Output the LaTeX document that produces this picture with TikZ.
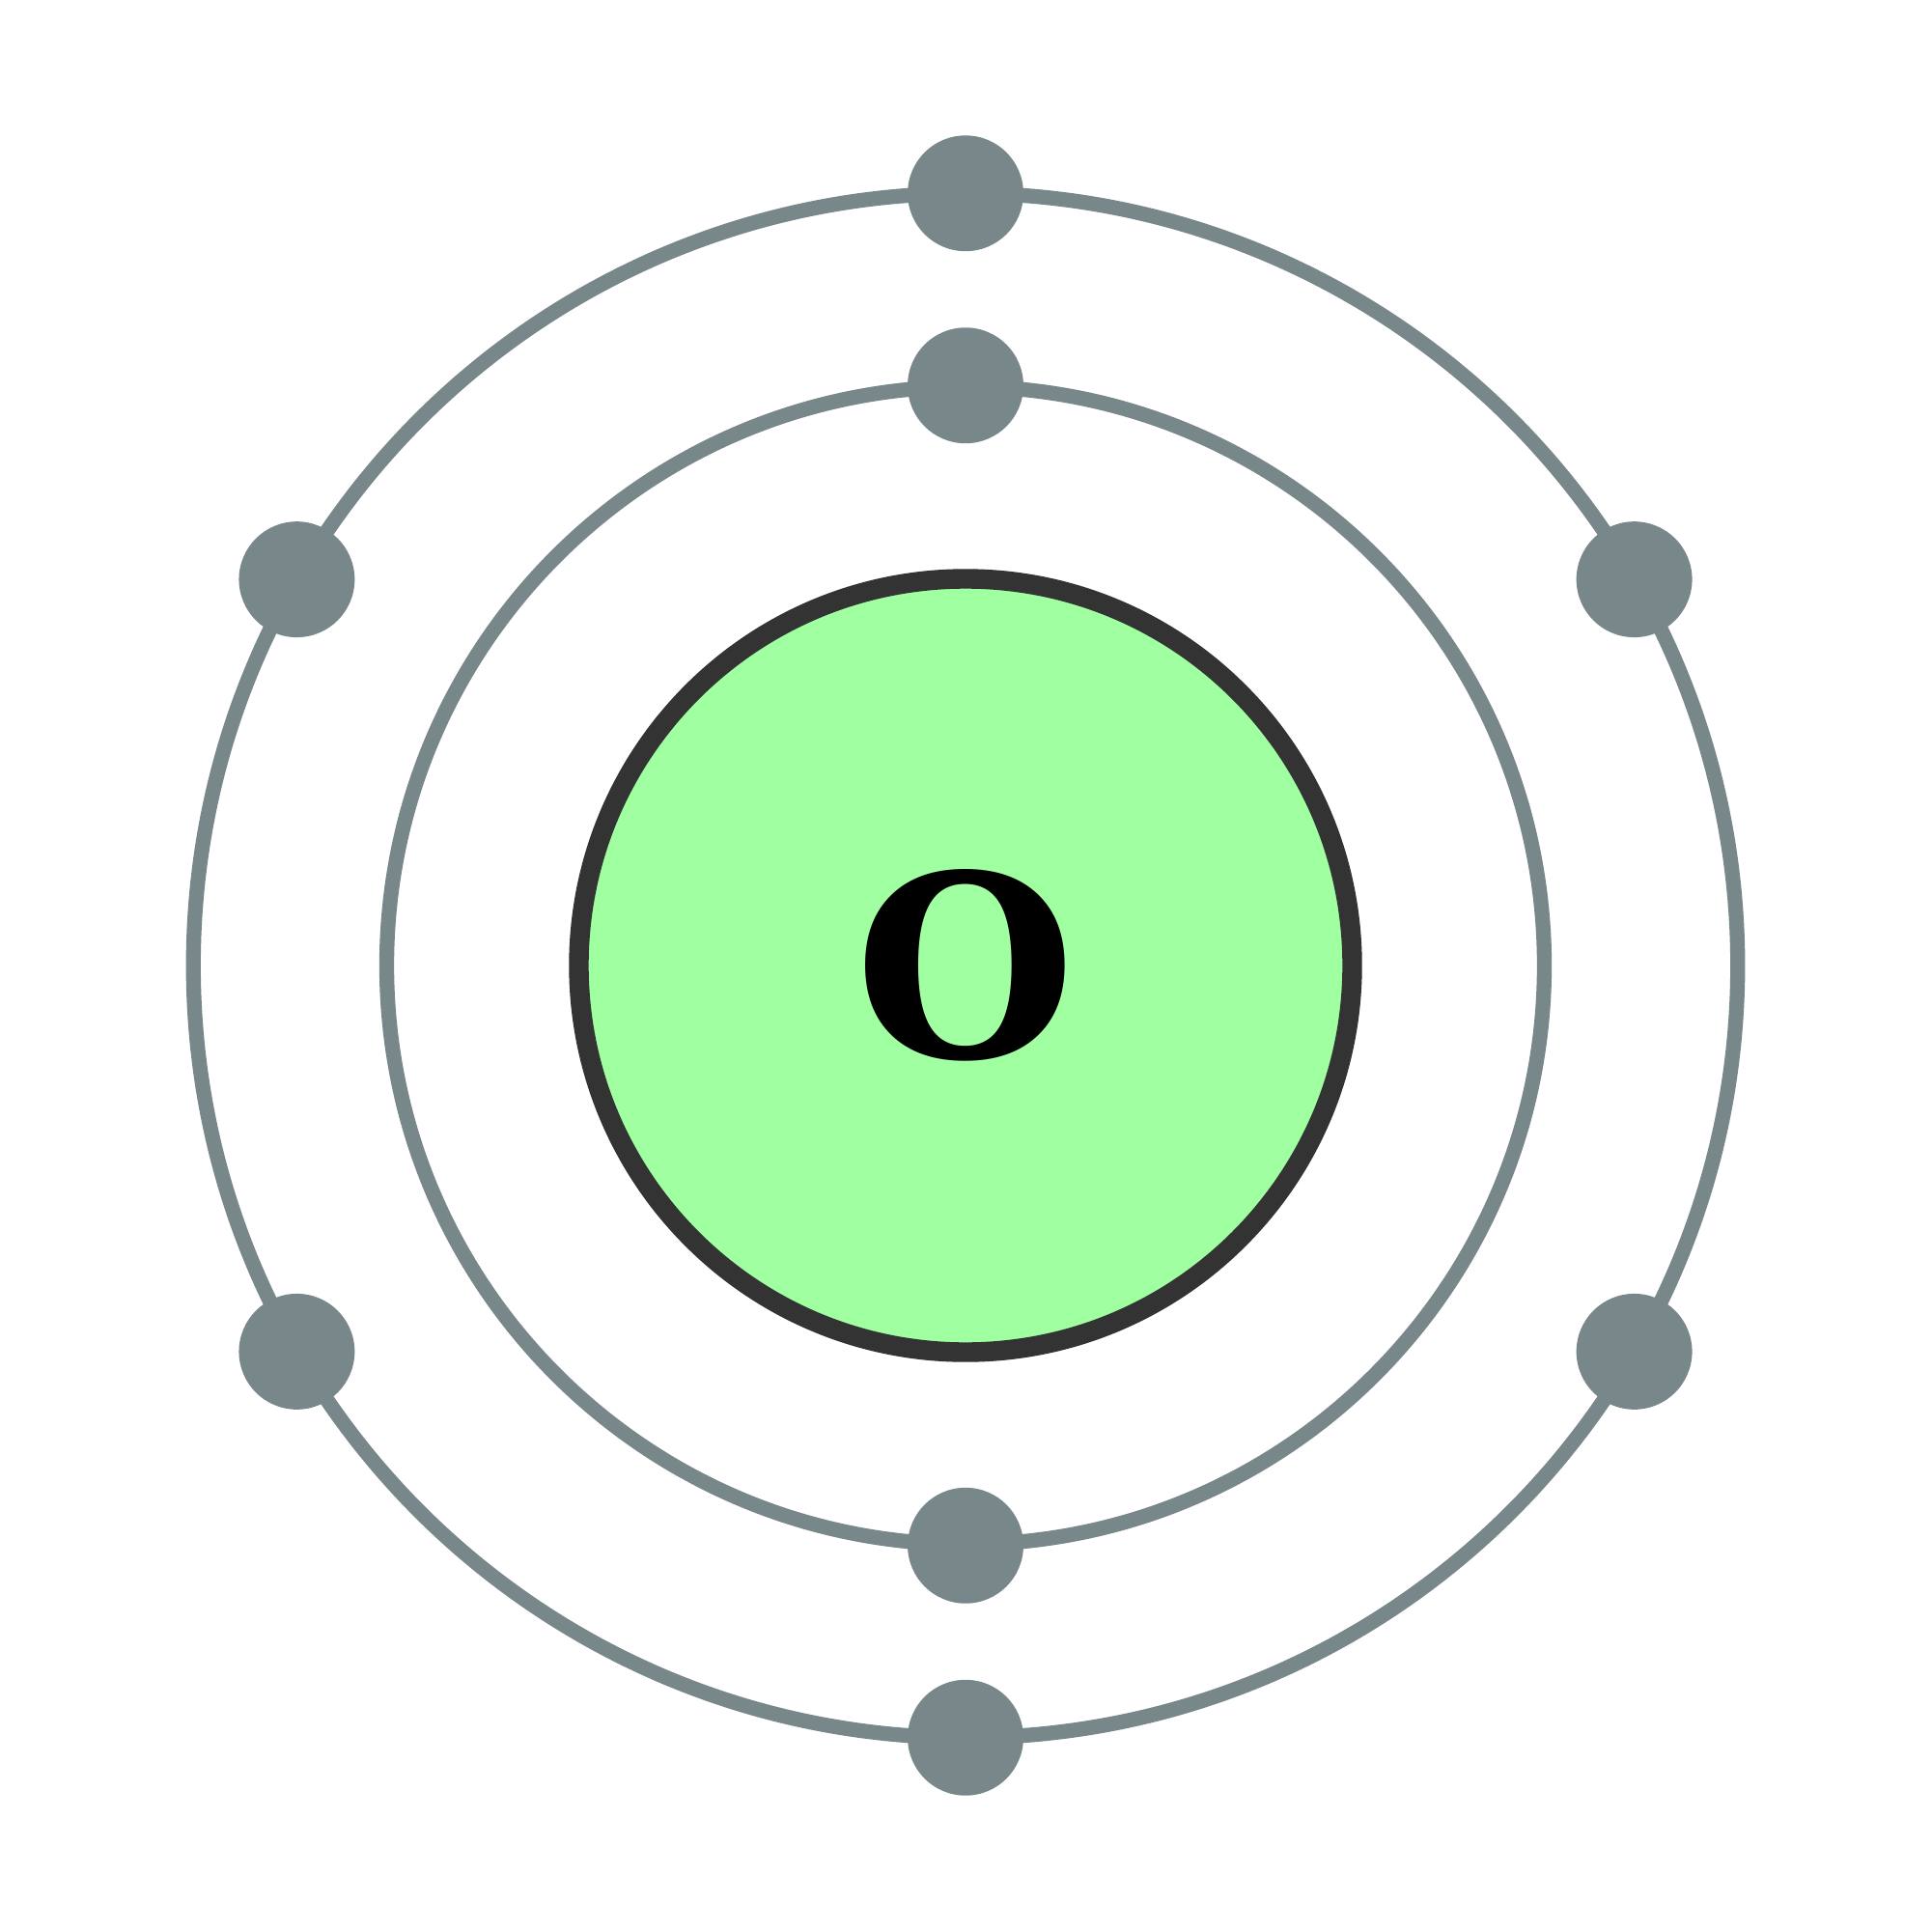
\documentclass[tikz,border=0pt]{standalone}
\usepackage{fontspec}
\newfontfamily\elemfont{DejaVu Serif}
\definecolor{shellgray}{RGB}{120,136,138}
\definecolor{nucgreen}{RGB}{160,255,160}
\definecolor{nucedge}{RGB}{51,51,51}

\begin{document}
\begin{tikzpicture}[x=0.5pt,y=0.5pt,yscale=-1,xscale=1,
  shell/.style={draw=shellgray,line width=6pt},
  electron/.style={circle,fill=shellgray,draw=none,minimum size=47pt,inner sep=0pt},
  nucleus/.style={circle,fill=nucgreen,draw=nucedge,line width=8pt,minimum size=314pt,inner sep=0pt,
    font=\elemfont\bfseries\fontsize{103}{103}\selectfont}]
\useasboundingbox (0,0) rectangle (1568,1568);

%Shape: Circle [nucleus]
\node[nucleus] (O) at (784,784) {O};

%Shape: Circle [shells]
\draw[shell] (O.center) circle[radius=235pt];
\draw[shell] (O.center) circle[radius=313.5pt];

%Shape: Circle [inner shell electrons]
\node[electron] (e1) at (784,313) {};
\node[electron] (e2) at (784,1255) {};

%Shape: Circle [outer shell electrons]
\node[electron] (e3) at (784,157) {};
\node[electron] (e4) at (1327,470.5) {};
\node[electron] (e5) at (1327,1097.5) {};
\node[electron] (e6) at (784,1411) {};
\node[electron] (e7) at (241,1097.5) {};
\node[electron] (e8) at (241,470.5) {};

\end{tikzpicture}
\end{document}
